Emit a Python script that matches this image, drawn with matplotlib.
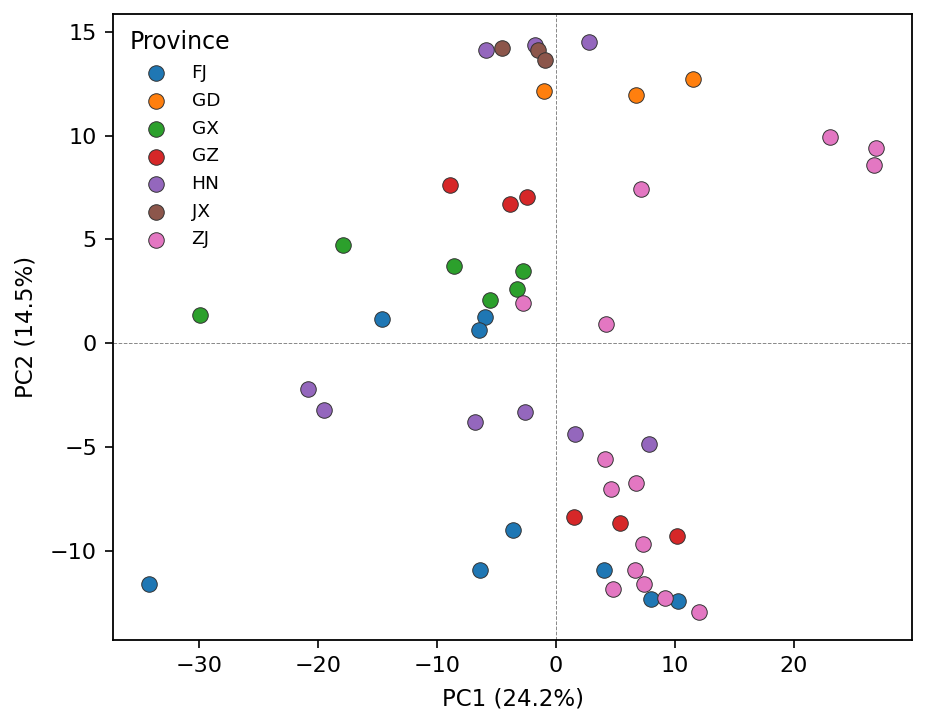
import matplotlib
matplotlib.use("Agg")
import matplotlib.pyplot as plt

provinces = ["FJ", "GD", "GX", "GZ", "HN", "JX", "ZJ"]
colors = ["#1f77b4", "#ff7f0e", "#2ca02c", "#d62728", "#9467bd", "#8c564b", "#e377c2"]

FJ_x = [-34.15, -14.62, -5.95, -6.43, -3.64, -6.40, 4.05, 7.99, 10.28]
FJ_y = [-11.57, 1.19, 1.28, 0.63, -8.99, -10.91, -10.90, -12.28, -12.39]

GD_x = [-1.00, 6.77, 11.50]
GD_y = [12.16, 11.97, 12.74]

GX_x = [-29.87, -17.91, -8.58, -2.72, -3.22, -5.51]
GX_y = [1.38, 4.75, 3.70, 3.46, 2.63, 2.10]

GZ_x = [-8.86, -3.86, -2.40, 1.53, 5.42, 10.22]
GZ_y = [7.63, 6.72, 7.03, -8.35, -8.64, -9.29]

HN_x = [-5.87, -1.76, 2.82, -20.79, -19.45, -6.82, -2.60, 1.59, 7.85]
HN_y = [14.13, 14.34, 14.50, -2.18, -3.21, -3.78, -3.28, -4.36, -4.82]

JX_x = [-4.53, -1.51, -0.92]
JX_y = [14.22, 14.13, 13.65]

ZJ_x = [23.05, 26.87, 26.74, 7.12, -2.77, 4.19, 4.13, 6.71, 4.66, 7.29, 6.67, 7.40, 4.78, 9.20, 12.01]
ZJ_y = [9.94, 9.41, 8.57, 7.45, 1.96, 0.93, -5.56, -6.72, -6.99, -9.63, -10.90, -11.59, -11.81, -12.23, -12.90]

data = {
    "FJ": (FJ_x, FJ_y), "GD": (GD_x, GD_y), "GX": (GX_x, GX_y), "GZ": (GZ_x, GZ_y),
    "HN": (HN_x, HN_y), "JX": (JX_x, JX_y), "ZJ": (ZJ_x, ZJ_y),
}

plt.rcParams['font.family'] = ['DejaVu Sans']
fig = plt.figure(figsize=(9.28, 7.21), dpi=100)
ax = fig.add_axes([113/928, 81/721, 799/928, 626.5/721])

ax.axhline(0, color="#888888", linestyle="--", linewidth=0.7, zorder=0)
ax.axvline(0, color="#888888", linestyle="--", linewidth=0.7, zorder=0)

for p, c in zip(provinces, colors):
    x, y = data[p]
    ax.scatter(x, y, s=125, color=c, edgecolor="#333333", linewidth=0.7, label=p, zorder=3)

ax.set_xlabel("PC1 (24.2%)", fontsize=16.5, labelpad=8)
ax.set_ylabel("PC2 (14.5%)", fontsize=16.5, labelpad=9)
ax.set_xticks([-30, -20, -10, 0, 10, 20])
ax.set_yticks([-10, -5, 0, 5, 10, 15])
ax.tick_params(labelsize=16, length=5.5, width=1.2, pad=6)
for sp in ax.spines.values():
    sp.set_linewidth(1.3)

leg = ax.legend(title="Province", loc="upper left", frameon=False, fontsize=13.3,
                title_fontsize=17, labelspacing=0.525, handlelength=2.9,
                handletextpad=0.45, borderaxespad=0.5, alignment="left")
leg._legend_box.sep = 7.3

fig.savefig("out.png", dpi=100)
